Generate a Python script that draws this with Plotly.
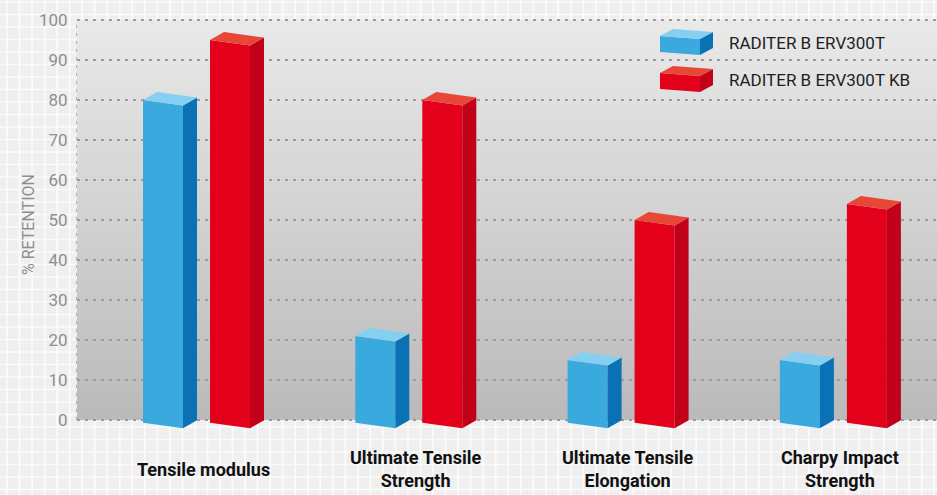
import plotly.graph_objects as go

# ---------------- data ----------------
categories = ["Tensile modulus", "Ultimate Tensile<br>Strength",
              "Ultimate Tensile<br>Elongation", "Charpy Impact<br>Strength"]
series_names = ["RADITER B ERV300T", "RADITER B ERV300T KB"]
erv300t = [80, 21, 15, 15]
erv300t_kb = [95, 80, 50, 54]
y_ticks = [0, 10, 20, 30, 40, 50, 60, 70, 80, 90, 100]

# ---------------- styling ----------------
W, H = 937, 495
ML, MR, MT, MB = 77, 0, 10, 55
PX_PER_CAT = 212.3           # pixel distance between category groups
PX_PER_Y = 4.0               # pixels per y unit
Y0_PX = 420                  # pixel row of y = 0
XC0_PX = 203                 # pixel column of first group centre

plot_w = W - ML - MR
plot_h = H - MT - MB
x_min = -(XC0_PX - ML) / PX_PER_CAT
x_max = x_min + plot_w / PX_PER_CAT
y_max = (Y0_PX - MT) / PX_PER_Y
y_min = (Y0_PX - (H - MB)) / PX_PER_Y

u = 1.0 / PX_PER_CAT          # one pixel in x data units
v = 1.0 / PX_PER_Y            # one pixel in y data units

FONT = "Roboto, Liberation Sans, sans-serif"

colors = [
    dict(front="#3aa9de", side="#0b71b5", top="#86cff1"),
    dict(front="#e2001b", side="#c10019", top="#e84636"),
]
bar_off = [(-60, -20), (7, 47)]   # front-left / front-right pixel offsets from group centre
DEPTH_X, DEPTH_Y = 14, 8
SLANT = 5.5

fig = go.Figure()

for s, vals in enumerate([erv300t, erv300t_kb]):
    col = colors[s]
    for i, val in enumerate(vals):
        xl = i + bar_off[s][0] * u
        xr = i + bar_off[s][1] * u
        xs = xr + DEPTH_X * u
        yl_top = val
        yr_top = val - SLANT * v
        yl_bot = -0.7
        yr_bot = yl_bot - SLANT * v
        dy = DEPTH_Y * v
        fig.add_trace(go.Scatter(
            x=[xl, xr, xr, xl, xl], y=[yl_top, yr_top, yr_bot, yl_bot, yl_top],
            fill="toself", fillcolor=col["front"], mode="lines",
            line=dict(width=0, color=col["front"]), hoverinfo="skip",
            showlegend=False))
        fig.add_trace(go.Scatter(
            x=[xr, xs, xs, xr, xr],
            y=[yr_top, yr_top + dy, yr_bot + dy, yr_bot, yr_top],
            fill="toself", fillcolor=col["side"], mode="lines",
            line=dict(width=0, color=col["side"]), hoverinfo="skip",
            showlegend=False))
        fig.add_trace(go.Scatter(
            x=[xl, xr, xs, xl + DEPTH_X * u, xl],
            y=[yl_top, yr_top, yr_top + dy, yl_top + dy, yl_top],
            fill="toself", fillcolor=col["top"], mode="lines",
            line=dict(width=0, color=col["top"]), hoverinfo="skip",
            showlegend=False))


def px2paper(px, py):
    return (px - ML) / plot_w, (H - MB - py) / plot_h


shapes = []

# graph-paper pattern over whole background
parts = []
k = 0
while True:
    px = 7 + 12.53 * k
    if px > W:
        break
    x0, y0 = px2paper(px, 0)
    _, y1 = px2paper(px, H)
    parts.append(f"M{x0:.5f},{y0:.5f}L{x0:.5f},{y1:.5f}")
    k += 1
k = 0
while True:
    py = 2 + 12.5 * k
    if py > H:
        break
    x0, yy = px2paper(0, py)
    x1, _ = px2paper(W, py)
    parts.append(f"M{x0:.5f},{yy:.5f}L{x1:.5f},{yy:.5f}")
    k += 1
shapes.append(dict(type="path", xref="paper", yref="paper", path="".join(parts),
                   line=dict(color="#fbfbfb", width=1.7), layer="below"))

# vertical gradient inside chart area (0..100)
n_str = 50
for j in range(n_str):
    y0 = j * 100 / n_str
    y1 = (j + 1) * 100 / n_str
    t = (y0 + y1) / 200
    c = int(round(186 + (233 - 186) * t))
    shapes.append(dict(type="rect", xref="x", yref="y", x0=x_min, x1=x_max,
                       y0=y0, y1=y1, fillcolor=f"rgb({c},{c},{c})",
                       line=dict(width=0), layer="below"))

# faint pattern inside the gradient area
parts = []
k = 0
while True:
    px = 7 + 12.53 * k
    if px > W:
        break
    if px > ML:
        x0, y0 = px2paper(px, Y0_PX - 100 * PX_PER_Y)
        _, y1 = px2paper(px, Y0_PX)
        parts.append(f"M{x0:.5f},{y0:.5f}L{x0:.5f},{y1:.5f}")
    k += 1
k = 0
while True:
    py = 2 + 12.5 * k
    if py > Y0_PX:
        break
    if py > Y0_PX - 100 * PX_PER_Y:
        x0, yy = px2paper(ML, py)
        x1, _ = px2paper(W, py)
        parts.append(f"M{x0:.5f},{yy:.5f}L{x1:.5f},{yy:.5f}")
    k += 1
shapes.append(dict(type="path", xref="paper", yref="paper", path="".join(parts),
                   line=dict(color="rgba(255,255,255,0.3)", width=1.7), layer="below"))

# dotted y axis line
shapes.append(dict(type="line", xref="paper", yref="y", x0=0, x1=0, y0=0, y1=100,
                   line=dict(color="#9b9b9b", width=1.5, dash="3px,5px"), layer="below"))

# legend 3D boxes
for s in range(2):
    oy = 37 * s
    fl = (660, 36 + oy)
    fr = (700, 39 + oy)
    brb = (700, 55 + oy)
    blb = (660, 52 + oy)
    d = (13, -7)

    def P(pt):
        a, b = px2paper(*pt)
        return f"{a:.5f},{b:.5f}"

    front = f"M{P(fl)}L{P(fr)}L{P(brb)}L{P(blb)}Z"
    side = (f"M{P(fr)}L{P((fr[0]+d[0], fr[1]+d[1]))}"
            f"L{P((brb[0]+d[0], brb[1]+d[1]))}L{P(brb)}Z")
    top = (f"M{P(fl)}L{P(fr)}L{P((fr[0]+d[0], fr[1]+d[1]))}"
           f"L{P((fl[0]+d[0], fl[1]+d[1]))}Z")
    for path, key in [(front, "front"), (side, "side"), (top, "top")]:
        shapes.append(dict(type="path", xref="paper", yref="paper", path=path,
                           fillcolor=colors[s][key], line=dict(width=0), layer="above"))

annotations = []
for s, name in enumerate(series_names):
    ax, ay = px2paper(727, 43 + 37 * s)
    annotations.append(dict(xref="paper", yref="paper", x=ax, y=ay, text=name,
                            showarrow=False, xanchor="left", yanchor="middle",
                            font=dict(family=FONT, size=17, color="#1e1e1e")))
tx, ty = px2paper(28, 225)
annotations.append(dict(xref="paper", yref="paper", x=tx, y=ty, text="% RETENTION",
                        textangle=-90, showarrow=False, xanchor="center",
                        yanchor="middle",
                        font=dict(family=FONT, size=16, color="#8e8e8e")))
# category labels (vertically centred like the reference)
_, cy = px2paper(0, 469)
for i, cat in enumerate(categories):
    annotations.append(dict(xref="x", yref="paper", x=i, y=cy, text=f"<b>{cat}</b>",
                            showarrow=False, xanchor="center", yanchor="middle",
                            font=dict(family=FONT, size=18, color="#111111")))

fig.update_layout(
    width=W, height=H,
    margin=dict(l=ML, r=MR, t=MT, b=MB, pad=0),
    paper_bgcolor="#efefef", plot_bgcolor="rgba(0,0,0,0)",
    showlegend=False,
    shapes=shapes, annotations=annotations,
    xaxis=dict(range=[x_min, x_max], tickvals=list(range(len(categories))),
               showticklabels=False, automargin=False,
               showgrid=False, zeroline=False, showline=False, ticks="",
               fixedrange=True),
    yaxis=dict(range=[y_min, y_max], tickvals=y_ticks, automargin=False,
               showgrid=True, gridcolor="#9b9b9b", gridwidth=1.5, griddash="3px,5px",
               zeroline=False, showline=False,
               ticks="outside", ticklen=5, tickcolor="rgba(0,0,0,0)",
               tickfont=dict(family=FONT, size=17, color="#8e8e8e"),
               fixedrange=True),
)

fig.write_html("out.html", config={"displayModeBar": False},
               post_script="document.body.style.margin='0';document.body.style.padding='0';"
                           "document.body.style.overflow='hidden';")
